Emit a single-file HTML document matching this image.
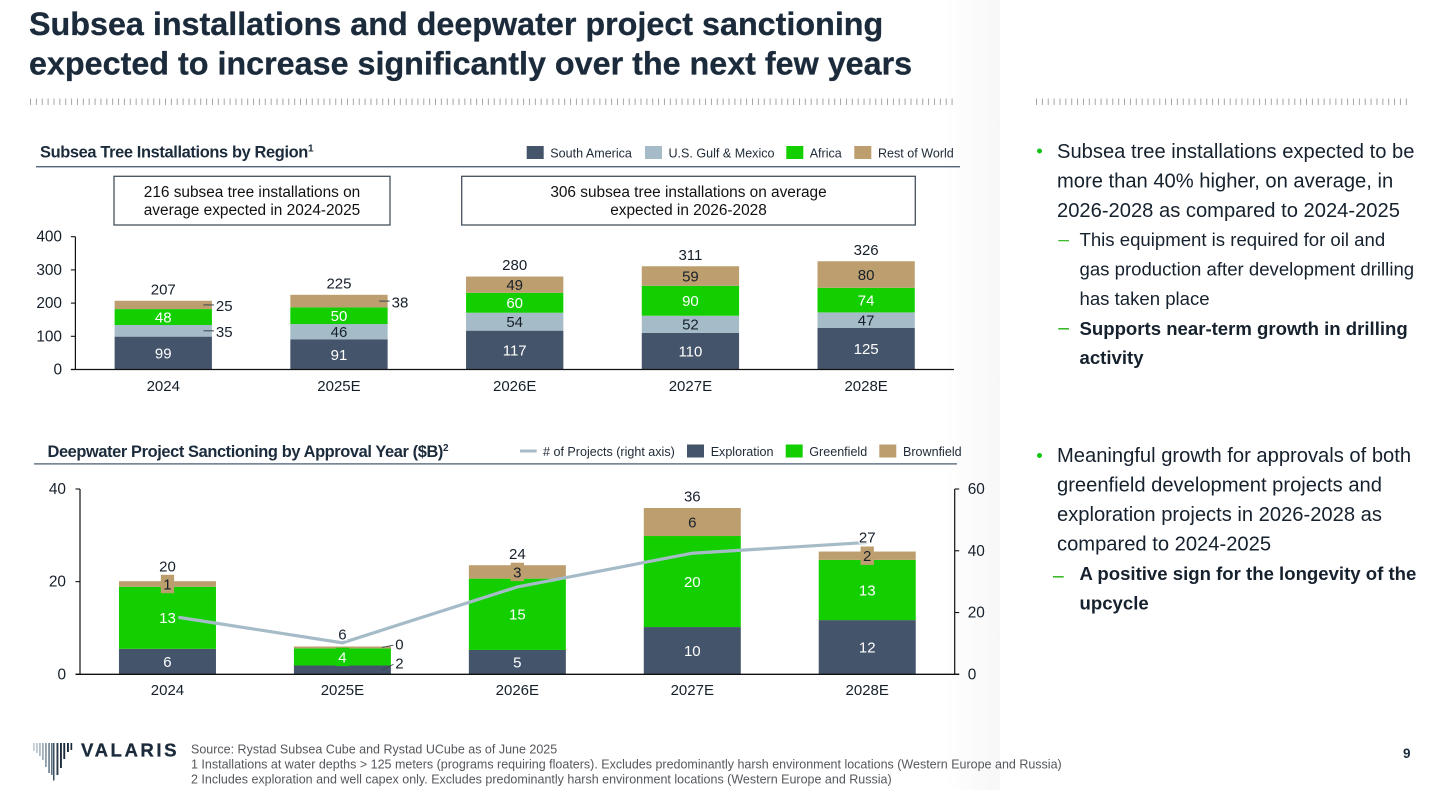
<!DOCTYPE html>
<html lang="en">
<head>
<meta charset="utf-8">
<title>Subsea installations and deepwater project sanctioning</title>
<style>
html,body{margin:0;padding:0;background:#fff;width:1456px;height:790px;overflow:hidden}
svg{display:block;font-family:"Liberation Sans",Arial,sans-serif}
text{white-space:pre}
</style>
</head>
<body>
<svg id="slide" xmlns="http://www.w3.org/2000/svg" width="1456" height="790" viewBox="0 0 1456 790">
  <defs>
    <linearGradient id="panelShade" x1="0" x2="1" y1="0" y2="0">
      <stop offset="0" stop-color="#ffffff"/>
      <stop offset="1" stop-color="#f7f7f7"/>
    </linearGradient>
    <pattern id="tickPattern" x="30" y="0" width="5.87" height="10" patternUnits="userSpaceOnUse">
      <rect x="0" y="0" width="1" height="10" fill="#a4a4a4"/>
    </pattern>
    <pattern id="tickPatternRight" x="1036" y="0" width="5.87" height="10" patternUnits="userSpaceOnUse">
      <rect x="0" y="0" width="1" height="10" fill="#a4a4a4"/>
    </pattern>
  </defs>
  <rect x="0" y="0" width="1456" height="790" fill="#ffffff"/>
  <rect x="945" y="0" width="55" height="790" fill="url(#panelShade)"/>

  <g font-size="32.3" font-weight="700" fill="#1b2b3b" stroke="#1b2b3b" stroke-width="0.3">
    <text x="29" y="35">Subsea installations and deepwater project sanctioning</text>
    <text x="29" y="74.5">expected to increase significantly over the next few years</text>
  </g>
  <rect x="30" y="98.5" width="926" height="6.5" fill="url(#tickPattern)"/>
  <rect x="1036" y="98.5" width="372" height="6.5" fill="url(#tickPatternRight)"/>

  <!-- Chart 1 header -->
  <text x="40" y="157.5" font-size="16.4" font-weight="700" letter-spacing="-0.36" fill="#1b2b3b">Subsea Tree Installations by Region<tspan font-size="10" dy="-6">1</tspan></text>
  <rect x="36" y="166" width="924" height="1.4" fill="#55657a"/>
  <g font-size="12.55" fill="#1f2a36">
    <rect x="526.7" y="146" width="17" height="13" fill="#44546a"/>
    <text x="550.3" y="157.5">South America</text>
    <rect x="645" y="146" width="17" height="13" fill="#a5bcc8"/>
    <text x="668.5" y="157.5">U.S. Gulf &amp; Mexico</text>
    <rect x="786.3" y="146" width="17" height="13" fill="#14cf00"/>
    <text x="809.7" y="157.5">Africa</text>
    <rect x="854.3" y="146" width="17" height="13" fill="#bd9e6e"/>
    <text x="878" y="157.5">Rest of World</text>
  </g>
  <g>
    <rect x="114" y="176.3" width="276" height="48.7" fill="#fff" stroke="#44505e" stroke-width="1.3"/>
    <text x="252" y="197" font-size="15.4" text-anchor="middle" fill="#111">216 subsea tree installations on</text>
    <text x="252" y="215" font-size="15.4" text-anchor="middle" fill="#111">average expected in 2024-2025</text>
  </g>
  <g>
    <rect x="461.7" y="176.3" width="453.6" height="48.7" fill="#fff" stroke="#44505e" stroke-width="1.3"/>
    <text x="688.5" y="197" font-size="15.4" text-anchor="middle" fill="#111">306 subsea tree installations on average</text>
    <text x="688.5" y="215" font-size="15.4" text-anchor="middle" fill="#111">expected in 2026-2028</text>
  </g>
  <g id="treeChart"></g>

  <!-- Chart 2 header -->
  <text x="47.5" y="457" font-size="16.4" font-weight="700" letter-spacing="-0.39" fill="#1b2b3b">Deepwater Project Sanctioning by Approval Year ($B)<tspan font-size="10" dy="-6">2</tspan></text>
  <rect x="34" y="463" width="923" height="1.7" fill="#7a8794"/>
  <g font-size="12.55" fill="#1f2a36">
    <line x1="520" x2="536.7" y1="451" y2="451" stroke="#a5bcc8" stroke-width="3"/>
    <text x="543" y="456"># of Projects (right axis)</text>
    <rect x="687" y="444.5" width="17" height="13" fill="#44546a"/>
    <text x="710.7" y="456">Exploration</text>
    <rect x="785.7" y="444.5" width="17" height="13" fill="#14cf00"/>
    <text x="809.3" y="456">Greenfield</text>
    <rect x="879.3" y="444.5" width="17" height="13" fill="#bd9e6e"/>
    <text x="903" y="456">Brownfield</text>
  </g>
  <g id="sanctionChart"></g>

  <!-- Notes panel -->
  <g font-size="20.17" fill="#16212e">
    <circle cx="1039.5" cy="151" r="2.5" fill="#14c414"/>
    <text x="1057" y="158">Subsea tree installations expected to be</text>
    <text x="1057" y="187.5">more than 40% higher, on average, in</text>
    <text x="1057" y="217">2026-2028 as compared to 2024-2025</text>
    <rect x="1058.3" y="240" width="10.7" height="1.3" fill="#3cba2c"/>
    <text x="1079.5" y="246" font-size="18.58">This equipment is required for oil and</text>
    <text x="1079.5" y="275.5" font-size="18.58">gas production after development drilling</text>
    <text x="1079.5" y="305" font-size="18.58">has taken place</text>
    <rect x="1058.3" y="328" width="10.7" height="1.6" fill="#3cba2c"/>
    <text x="1079.5" y="335" font-size="18.58" font-weight="700">Supports near-term growth in drilling</text>
    <text x="1079.5" y="364" font-size="18.58" font-weight="700">activity</text>

    <circle cx="1039.5" cy="455.5" r="2.5" fill="#14c414"/>
    <text x="1057" y="462">Meaningful growth for approvals of both</text>
    <text x="1057" y="491.5">greenfield development projects and</text>
    <text x="1057" y="521">exploration projects in 2026-2028 as</text>
    <text x="1057" y="550.5">compared to 2024-2025</text>
    <rect x="1053" y="576" width="10.7" height="1.6" fill="#3cba2c"/>
    <text x="1079.5" y="580" font-size="18.58" font-weight="700">A positive sign for the longevity of the</text>
    <text x="1079.5" y="609.5" font-size="18.58" font-weight="700">upcycle</text>
  </g>

  <!-- Footer -->
  <g>
    <g>
      <rect x="33" y="743" width="1.8" height="8" fill="#c6cfd6"/>
      <rect x="36" y="743" width="1.8" height="10" fill="#bcc7cf"/>
      <rect x="39" y="743" width="1.8" height="13" fill="#aebbc5"/>
      <rect x="42" y="743" width="1.8" height="17" fill="#a0afbb"/>
      <rect x="45" y="743" width="1.8" height="24" fill="#8d9eac"/>
      <rect x="48.2" y="743" width="1.8" height="30" fill="#768997"/>
      <rect x="51" y="743" width="1.6" height="32" fill="#5f7281"/>
      <rect x="53" y="743" width="1.5" height="37.5" fill="#3e4f5e"/>
      <rect x="56.5" y="743" width="1.9" height="32" fill="#2b3b4a"/>
      <rect x="60" y="743" width="1.9" height="25" fill="#1f2e3d"/>
      <rect x="63.3" y="743" width="1.9" height="16" fill="#1b2b3b"/>
      <rect x="67" y="743" width="1.9" height="9" fill="#1b2b3b"/>
      <rect x="70.5" y="743" width="1.7" height="7" fill="#1b2b3b"/>
    </g>
    <text x="81" y="756.3" font-size="18.6" font-weight="700" letter-spacing="2.55" fill="#1b2b3b" stroke="#1b2b3b" stroke-width="0.3">VALARIS</text>
  </g>
  <g font-size="12.5" fill="#55585c">
    <text x="191" y="753.5">Source: Rystad Subsea Cube and Rystad UCube as of June 2025</text>
    <text x="191" y="768.5">1 Installations at water depths &gt; 125 meters (programs requiring floaters). Excludes predominantly harsh environment locations (Western Europe and Russia)</text>
    <text x="191" y="783.5">2 Includes exploration and well capex only. Excludes predominantly harsh environment locations (Western Europe and Russia)</text>
  </g>
  <text x="1403" y="758" font-size="13.5" font-weight="700" fill="#1b2b3b">9</text>
</svg>

<script>
// ---- Subsea tree installations ----
const treeCategories = ["2024", "2025E", "2026E", "2027E", "2028E"];
const treeSouthAmerica = [99, 91, 117, 110, 125];
const treeGulfMexico = [35, 46, 54, 52, 47];
const treeAfrica = [48, 50, 60, 90, 74];
const treeRestOfWorld = [25, 38, 49, 59, 80];
const treeTotals = [207, 225, 280, 311, 326];
const treeTicks = [0, 100, 200, 300, 400];

// ---- Deepwater project sanctioning ($B; plotted heights) ----
const sanctionCategories = ["2024", "2025E", "2026E", "2027E", "2028E"];
const sanctionExploration = [5.5, 1.9, 5.25, 10.2, 11.7];
const sanctionGreenfield = [13.4, 3.7, 15.4, 19.65, 13.0];
const sanctionBrownfield = [1.2, 0.4, 2.9, 6.05, 1.8];
const sanctionExplorationLabels = ["6", "2", "5", "10", "12"];
const sanctionGreenfieldLabels = ["13", "4", "15", "20", "13"];
const sanctionBrownfieldLabels = ["1", "0", "3", "6", "2"];
const sanctionTotals = ["20", "6", "24", "36", "27"];
const projectCounts = [19, 10.2, 28.3, 39.2, 42.7];
const sanctionLeftTicks = [0, 20, 40];
const sanctionRightTicks = [0, 20, 40, 60];

const SVGNS = "http://www.w3.org/2000/svg";
const NAVY = "#44546a", SLATE = "#a5bcc8", GREEN = "#14cf00", TAN = "#bd9e6e";
const INK = "#16202b";

function make(parent, tag, attrs) {
  const node = document.createElementNS(SVGNS, tag);
  for (const k in attrs) node.setAttribute(k, attrs[k]);
  parent.appendChild(node);
  return node;
}
function makeText(parent, x, cy, str, size, anchor, fill) {
  const node = make(parent, "text", {
    x: x, y: cy + size * 0.36, "font-size": size, "text-anchor": anchor, fill: fill
  });
  node.textContent = str;
  return node;
}

// Axis functions, tree chart
const treeLeft = 75.4, treeRight = 954, treeBase = 369.5, treeTop = 236.7, treeMax = 400, treeBarW = 97.3;
const treeY = v => treeBase - (v / treeMax) * (treeBase - treeTop);
const treeX = i => treeLeft + (i + 0.5) * (treeRight - treeLeft) / treeCategories.length;

// Axis functions, sanctioning chart
const sanLeft = 80, sanRight = 954.7, sanBase = 674.3, sanTop = 489, sanMax = 40, sanRightMax = 60, sanBarW = 97;
const sanX = i => sanLeft + (i + 0.5) * (sanRight - sanLeft) / sanctionCategories.length;
const sanY = v => sanBase - (v / sanMax) * (sanBase - sanTop);
const sanYR = v => sanBase - (v / sanRightMax) * (sanBase - sanTop);

function drawTree() {
  const g = document.getElementById("treeChart");
  const series = [
    { key: "south-america", vals: treeSouthAmerica, color: NAVY, ink: "#ffffff" },
    { key: "gulf-mexico", vals: treeGulfMexico, color: SLATE, ink: INK },
    { key: "africa", vals: treeAfrica, color: GREEN, ink: "#ffffff" },
    { key: "rest-of-world", vals: treeRestOfWorld, color: TAN, ink: INK }
  ];
  treeCategories.forEach((cat, i) => {
    let base = 0;
    const cx = treeX(i);
    series.forEach(s => {
      const v = s.vals[i];
      const bar = make(g, "rect", {
        x: cx - treeBarW / 2, y: treeY(base + v), width: treeBarW,
        height: treeY(base) - treeY(base + v), fill: s.color
      });
      
      
      const mid = treeY(base + v / 2);
      // Thin segments in the first two years carry an outside label with a leader line
      const outside = (i === 0 && (s.key === "gulf-mexico" || s.key === "rest-of-world")) ||
                      (i === 1 && s.key === "rest-of-world");
      if (outside) {
        const leader = make(g, "line", {
          x1: cx + treeBarW / 2 - 8.5, x2: cx + treeBarW / 2 + 2, y1: mid, y2: mid,
          stroke: "#3a4550", "stroke-width": 1
        });
        
        
        const out = makeText(g, cx + treeBarW / 2 + 4, mid + 0.8, String(v), 15, "start", INK);
        
        
      } else {
        const lab = makeText(g, cx, mid, String(v), 15, "middle", s.ink);
        
        
      }
      base += v;
    });
    const total = makeText(g, cx, treeY(base) - 11.7, String(treeTotals[i]), 15, "middle", INK);
    
    
    const xl = makeText(g, cx, 385.4, cat, 15, "middle", INK);
    
    
  });
  const yAxis = make(g, "line", { x1: treeLeft, x2: treeLeft, y1: treeTop, y2: treeBase, stroke: "#111", "stroke-width": 1.2 });
  
  
  const xAxis = make(g, "line", { x1: treeLeft - 4.5, x2: treeRight, y1: treeBase, y2: treeBase, stroke: "#111", "stroke-width": 1.3 });
  
  
  treeTicks.forEach(t => {
    const mark = make(g, "line", { x1: treeLeft - 4.5, x2: treeLeft, y1: treeY(t), y2: treeY(t), stroke: "#111", "stroke-width": 1.1 });
    
    
    const lab = makeText(g, 62, treeY(t) - 0.5, String(t), 15.4, "end", INK);
    
    
  });
}

function drawSanction() {
  const g = document.getElementById("sanctionChart");
  const series = [
    { key: "exploration", vals: sanctionExploration, labels: sanctionExplorationLabels, color: NAVY, ink: "#ffffff" },
    { key: "greenfield", vals: sanctionGreenfield, labels: sanctionGreenfieldLabels, color: GREEN, ink: "#ffffff" },
    { key: "brownfield", vals: sanctionBrownfield, labels: sanctionBrownfieldLabels, color: TAN, ink: INK }
  ];
  const labelLayer = [];
  sanctionCategories.forEach((cat, i) => {
    let base = 0;
    const cx = sanX(i);
    series.forEach(s => {
      const v = s.vals[i];
      const bar = make(g, "rect", {
        x: cx - sanBarW / 2, y: sanY(base + v), width: sanBarW,
        height: sanY(base) - sanY(base + v), fill: s.color
      });
      
      
      labelLayer.push({ cat: cat, i: i, key: s.key, cx: cx, mid: sanY(base + v / 2), s: s });
      base += v;
    });
    labelLayer.push({ cat: cat, i: i, key: "total", cx: cx, top: sanY(base) });
  });

  // Project count line on the right axis
  const pts = projectCounts.map((v, i) => sanX(i) + "," + sanYR(v)).join(" ");
  const line = make(g, "polyline", { points: pts, fill: "none", stroke: SLATE, "stroke-width": 3.2, "stroke-linejoin": "miter" });
  
  

  // Labels go above the line with their own backing
  const totalNudge = [2.5, 0, -1, -0.7, 2];
  labelLayer.forEach(item => {
    if (item.key === "total") {
      const cy = item.top - 12.5 - totalNudge[item.i];
      const w = sanctionTotals[item.i].length * 8.3 + 1;
      const back = make(g, "rect", { x: item.cx - w / 2, y: cy - 6.5, width: w, height: 13, fill: "#ffffff" });
      
      
      const t = makeText(g, item.cx, cy, sanctionTotals[item.i], 15, "middle", INK);
      
      
      return;
    }
    const s = item.s;
    const text = s.labels[item.i];
    const isThin = item.i === 1 && (item.key === "exploration" || item.key === "brownfield");
    if (isThin) {
      const offset = item.key === "brownfield" ? -3.3 : -7;
      const rise = item.key === "brownfield" ? 2.3 : 5.5;
      const sx = item.cx + sanBarW / 2;
      const leader = make(g, "line", {
        x1: sx - 9, x2: sx + 2.5, y1: item.mid, y2: item.mid - rise,
        stroke: "#3a4550", "stroke-width": 0.9
      });
      
      
      const out = makeText(g, sx + 4.3, item.mid + offset, text, 15, "start", INK);
      
      
      return;
    }
    const w = text.length * 8.3 + 5;
    const back = make(g, "rect", { x: item.cx - w / 2, y: item.mid - 9.2, width: w, height: 18.4, fill: s.color });
    
    
    const lab = makeText(g, item.cx, item.mid, text, 15, "middle", s.ink);
    
    
  });

  sanctionCategories.forEach((cat, i) => {
    const xl = makeText(g, sanX(i), 689.5, cat, 15, "middle", INK);
    
    
  });

  const leftAxis = make(g, "line", { x1: sanLeft, x2: sanLeft, y1: sanTop, y2: sanBase, stroke: "#111", "stroke-width": 1.2 });
  
  
  const rightAxis = make(g, "line", { x1: sanRight, x2: sanRight, y1: sanTop, y2: sanBase, stroke: "#111", "stroke-width": 1.2 });
  
  
  const baseAxis = make(g, "line", { x1: sanLeft - 4.5, x2: sanRight + 4.5, y1: sanBase, y2: sanBase, stroke: "#111", "stroke-width": 1.3 });
  
  
  sanctionLeftTicks.forEach(t => {
    const mark = make(g, "line", { x1: sanLeft - 4.5, x2: sanLeft, y1: sanY(t), y2: sanY(t), stroke: "#111", "stroke-width": 1.1 });
    
    
    const lab = makeText(g, 66, sanY(t) - 0.5, String(t), 15.4, "end", INK);
    
    
  });
  sanctionRightTicks.forEach(t => {
    const mark = make(g, "line", { x1: sanRight, x2: sanRight + 4.5, y1: sanYR(t), y2: sanYR(t), stroke: "#111", "stroke-width": 1.1 });
    
    
    const lab = makeText(g, 967.7, sanYR(t) - 0.5, String(t), 15.4, "start", INK);
    
    
  });
}

drawTree();
drawSanction();
</script>
</body>
</html>
